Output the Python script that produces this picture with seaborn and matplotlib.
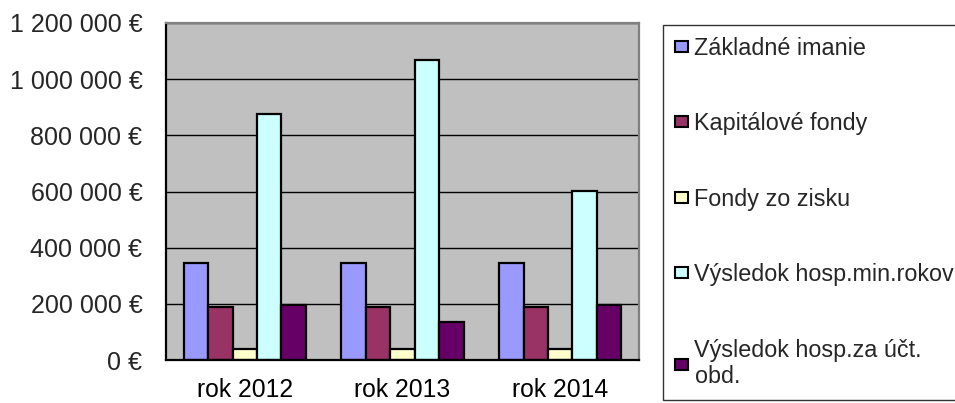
import pandas as pd
import seaborn as sns
import matplotlib.pyplot as plt
from matplotlib.ticker import FuncFormatter, FixedLocator

years = ['rok 2012', 'rok 2013', 'rok 2014']
series = ['Základné imanie', 'Kapitálové fondy', 'Fondy zo zisku',
          'Výsledok hosp.min.rokov', 'Výsledok hosp.za účt.\nobd.']
zakladne_imanie = [347000, 347000, 347000]
kapitalove_fondy = [190000, 190000, 190000]
fondy_zo_zisku = [39000, 39000, 39000]
vysledok_min_rokov = [875000, 1067000, 602000]
vysledok_za_obd = [196000, 135000, 195000]
colors = ['#9999FF', '#993366', '#FFFFCC', '#CCFFFF', '#660066']

values = [zakladne_imanie, kapitalove_fondy, fondy_zo_zisku, vysledok_min_rokov, vysledok_za_obd]
rows = []
for s, vals in zip(series, values):
    for y, v in zip(years, vals):
        rows.append({'year': y, 'series': s, 'value': v})
df = pd.DataFrame(rows)

sns.set_style('white')
plt.rcParams['font.family'] = ['Liberation Sans', 'DejaVu Sans']

fig = plt.figure(figsize=(9.55, 4.03), dpi=100)
ax = fig.add_axes([166 / 955, 1 - 360 / 403, 473 / 955, 337 / 403])

sns.barplot(data=df, x='year', y='value', hue='series', hue_order=series, order=years,
            palette=colors, edgecolor='black', linewidth=1.6, width=0.775, gap=0,
            saturation=1, ax=ax, legend=True)

ax.set_facecolor('#C0C0C0')
ax.set_ylim(0, 1200000)
ax.set_xlim(-0.5, 2.5)
ax.set_xlabel('')
ax.set_ylabel('')
ax.yaxis.set_major_locator(FixedLocator(range(0, 1200001, 200000)))
ax.yaxis.set_major_formatter(FuncFormatter(lambda v, p: f'{int(v):,} €'.replace(',', ' ')))
ax.grid(axis='y', color='black', linewidth=1.0)
ax.set_axisbelow(True)

# category ticks between the groups
ax.set_xticks([0, 1, 2])
ax.set_xticks([-0.5, 0.5, 1.5, 2.5], minor=True)
ax.tick_params(axis='x', which='major', length=0, labelsize=17.8, pad=13, colors='black')
ax.tick_params(axis='x', which='minor', length=6, width=1.2, color='black', direction='out')
ax.tick_params(axis='y', length=6, width=1.2, color='black', direction='out', labelsize=18, pad=11)

for side in ['left', 'bottom']:
    ax.spines[side].set_color('black')
    ax.spines[side].set_linewidth(1.6)
for side in ['top', 'right']:
    ax.spines[side].set_color('#808080')
    ax.spines[side].set_linewidth(1.6)

handles, labels = ax.get_legend_handles_labels()
ax.legend_.remove()
leg = fig.legend(handles, labels, loc='upper left',
                 bbox_to_anchor=(663 / 955, 1 - 25 / 403, 300 / 955, 0.0), mode='expand',
                 fontsize=16.8, frameon=True, fancybox=False, edgecolor='black',
                 handlelength=0.55, handleheight=0.35, handletextpad=0.3,
                 labelspacing=2.25, borderpad=0.5, borderaxespad=0)
leg.get_frame().set_linewidth(1.0)
for h in leg.legend_handles:
    h.set_edgecolor('black')
    h.set_linewidth(1.5)

fig.savefig('out.png', dpi=100)
